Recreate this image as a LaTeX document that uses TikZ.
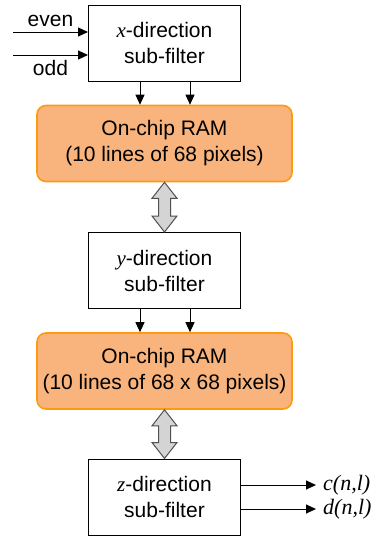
\documentclass[tikz,border=0pt]{standalone}
\usepackage{fontspec}
\setmainfont{Liberation Sans}
\newfontfamily\tnr{Liberation Serif}
\usetikzlibrary{arrows.meta,calc}

\definecolor{ramfill}{HTML}{F9B37C}
\definecolor{ramedge}{HTML}{FF9A10}
\definecolor{dblfill}{HTML}{D4D4D4}
\definecolor{dbledge}{HTML}{505050}

\newcommand{\vi}[1]{{\tnr\itshape #1}}

\tikzset{
  txt/.style={font=\fontsize{21}{26}\selectfont, align=center},
  filterbox/.style={txt, draw=black, line width=1pt, fill=white,
    minimum width=152pt, minimum height=76pt, inner sep=0pt},
  rambox/.style={txt, draw=ramedge, line width=1.6pt, fill=ramfill,
    rounded corners=9pt, minimum width=255pt, minimum height=76pt, inner sep=0pt},
  arr/.style={line width=1pt, -{Triangle[length=10pt,width=9pt]}},
  dbl/.style={draw=dbledge, fill=dblfill, line width=1pt, line join=miter},
  outlbl/.style={font=\fontsize{22}{22}\selectfont\tnr\itshape, anchor=west, inner sep=0pt}
}

\begin{document}
\begin{tikzpicture}[x=1pt, y=-1pt]
  \useasboundingbox (0,0) rectangle (377,538);

  % processing blocks and memories
  \node[filterbox] (xbox) at (164.5,43)    {\vi{x}-direction\\sub-filter};
  \node[rambox]    (ram1) at (164.5,143.5) {On-chip RAM\\(10 lines of 68 pixels)};
  \node[filterbox] (ybox) at (164.5,270.5) {\vi{y}-direction\\sub-filter};
  \node[rambox]    (ram2) at (164.5,371)   {On-chip RAM\\(10 lines of 68 x 68 pixels)};
  \node[filterbox] (zbox) at (164.5,497)   {\vi{z}-direction\\sub-filter};

  % inputs
  \coordinate (evenin) at (13,32);
  \coordinate (oddin)  at (13,55);
  \draw[arr] (evenin) -- (evenin -| xbox.west);
  \draw[arr] (oddin)  -- (oddin -| xbox.west);
  \node[txt, anchor=base] (evenlbl) at (50.5,27) {even};
  \node[txt, anchor=base] (oddlbl)  at (50.5,75) {odd};

  % filter outputs into memory
  \draw[arr] ([xshift=-24.5pt]xbox.south) -- ([xshift=-24.5pt]ram1.north);
  \draw[arr] ([xshift=25.5pt]xbox.south)  -- ([xshift=25.5pt]ram1.north);
  \draw[arr] ([xshift=-24.5pt]ybox.south) -- ([xshift=-24.5pt]ram2.north);
  \draw[arr] ([xshift=25.5pt]ybox.south)  -- ([xshift=25.5pt]ram2.north);

  % bidirectional memory accesses
  \foreach \a/\b in {ram1/ybox, ram2/zbox}{
    \draw[dbl] (\a.south) -- ++(12.5,16) -- ++(-6.5,0)
      -- ($(\b.north)+(6,-16)$) -- ++(6.5,0) -- (\b.north)
      -- ++(-12.5,-16) -- ++(6.5,0)
      -- ($(\a.south)+(-6,16)$) -- ++(-6.5,0) -- cycle;
  }

  % outputs
  \coordinate (cout) at (316,485);
  \coordinate (dout) at (316,509);
  \draw[arr] (cout -| zbox.east) -- (cout);
  \draw[arr] (dout -| zbox.east) -- (dout);
  \node[outlbl] (clbl) at ([xshift=7pt]cout) {c(n,l)};
  \node[outlbl] (dlbl) at ([xshift=7pt]dout) {d(n,l)};
\end{tikzpicture}
\end{document}
